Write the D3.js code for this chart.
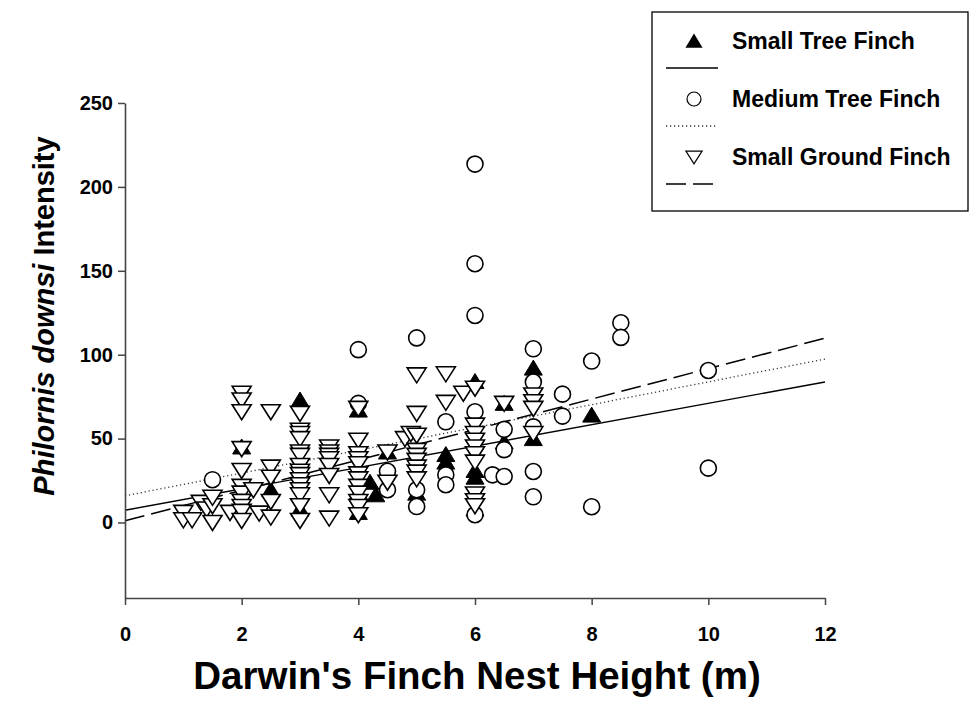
<!DOCTYPE html>
<html>
<head>
<meta charset="utf-8">
<script src="https://cdn.jsdelivr.net/npm/d3@7"></script>
<style>
  body { margin: 0; background: #fff; }
  text { font-family: "Liberation Sans", Arial, sans-serif; font-weight: bold; fill: #000; }
</style>
</head>
<body>
<svg id="chart" width="970" height="704"></svg>
<script>
// Axis ticks
const xTicks = [0, 2, 4, 6, 8, 10, 12];
const yTicks = [0, 50, 100, 150, 200, 250];

// Series names
const seriesNames = ["Small Tree Finch", "Medium Tree Finch", "Small Ground Finch"];

// Small Tree Finch: nest height (m) and intensity
const stfX = [2, 2.5, 3, 3, 4, 4, 4, 4.2, 4.3, 4.5, 5, 5.5, 5.5, 6, 6, 6, 6, 6.5, 6.5, 7, 7, 8];
const stfY = [45, 19.5, 73, 8, 67, 18, 6, 24, 16.5, 42, 17.5, 40.5, 36, 84, 31, 27, 8, 71, 48, 92, 50, 64];

// Medium Tree Finch
const mtfX = [1.5, 4, 4, 4.5, 4.5, 5, 5, 5, 5.5, 5.5, 5.5, 6, 6, 6, 6, 6, 6.3, 6.5, 6.5, 6.5,
              7, 7, 7, 7, 7, 7.5, 7.5, 8, 8, 8.5, 8.5, 10, 10];
const mtfY = [25.5, 103, 71, 30.5, 19.5, 110, 19.5, 9.5, 60, 28.4, 22.5, 213.6, 154.2, 123.4, 66, 4.6, 28.4, 27.4, 55.5, 43.4,
              103.5, 83.7, 57, 30.4, 15.3, 76.5, 63.4, 96.2, 9.4, 119, 110.3, 90.6, 32.4];

// Small Ground Finch
const sgfX = [1, 1, 1.15, 1.3, 1.4, 1.5, 1.5, 1.5, 1.8,
              2, 2, 2, 2, 2, 2, 2, 2, 2, 2, 2,
              2.2, 2.3,
              2.5, 2.5, 2.5, 2.5, 2.5,
              3, 3, 3, 3, 3, 3, 3, 3, 3, 3, 3, 3, 3, 3, 3,
              3.5, 3.5, 3.5, 3.5, 3.5, 3.5, 3.5, 3.5,
              4, 4, 4, 4, 4, 4, 4, 4, 4, 4, 4, 4,
              4.5, 4.5, 4.8, 4.9,
              5, 5, 5, 5, 5, 5, 5, 5, 5,
              5.5, 5.5, 5.8,
              6, 6, 6, 6, 6, 6, 6, 6, 6, 6,
              6.5, 7, 7, 7, 7];
const sgfY = [6, 1.6, 1.6, 12, 8, 0, 10, 15, 6,
              77, 73, 66, 44, 31, 21.5, 17.5, 12.6, 9.5, 6.6, 1.2,
              19.5, 5.6,
              66, 33, 27, 12.5, 3.2,
              65, 55, 53, 50, 42, 40, 34, 30.5, 28.5, 25.5, 22.5, 19.5, 16.5, 10, 1.2,
              45, 42, 40, 38, 34, 28, 16.5, 2.6,
              68, 49, 41, 38, 35, 29, 26, 21.5, 17.5, 12.5, 9.5, 4.6,
              42, 24, 50, 53,
              88, 65, 52, 43, 40, 37, 33, 30, 26,
              88.6, 71.6, 77,
              80, 58, 53, 49, 45, 41, 36, 17, 13, 10,
              71, 76, 72, 68, 53];

// Linear fits (intercept, slope) per series
const fitIntercept = [7.3, 15.9, 1.0];
const fitSlope = [6.37, 6.79, 9.07];

const svg = d3.select("#chart");
const x = d3.scaleLinear().domain([0, 12]).range([125, 825]);
const y = d3.scaleLinear().domain([-45, 250]).range([598, 103]);

// Marker shapes
const upTri = (cx, cy, s = 1) =>
  `M${cx},${cy - 8 * s}L${cx + 9 * s},${cy + 7 * s}L${cx - 9 * s},${cy + 7 * s}Z`;
const downTri = (cx, cy, s = 1) =>
  `M${cx - 9.5 * s},${cy - 7 * s}L${cx + 9.5 * s},${cy - 7 * s}L${cx},${cy + 8 * s}Z`;

const lineStyles = [
  { dash: null, width: 1.4, color: "#000" },
  { dash: "1.2,2.8", width: 1.3, color: "#333" },
  { dash: "20,7", width: 1.5, color: "#000" }
];

// Regression lines across the full x range
const plot = svg.append("g");
fitIntercept.forEach((b, i) => {
  const m = fitSlope[i];
  const xs = x.domain();
  plot.append("line")
    .attr("x1", x(xs[0])).attr("y1", y(b + m * xs[0]))
    .attr("x2", x(xs[1])).attr("y2", y(b + m * xs[1]))
    .attr("stroke", lineStyles[i].color)
    .attr("stroke-width", lineStyles[i].width)
    .attr("stroke-dasharray", lineStyles[i].dash);
});

// Small Tree Finch: filled up triangles
const stf = d3.zip(stfX, stfY);
plot.append("g").selectAll("path").data(stf).join("path")
  .attr("d", d => upTri(x(d[0]), y(d[1])))
  .attr("fill", "#000").attr("stroke", "#000").attr("stroke-width", 1);

// Medium Tree Finch: open circles
const mtf = d3.zip(mtfX, mtfY);
plot.append("g").selectAll("circle").data(mtf).join("circle")
  .attr("cx", d => x(d[0])).attr("cy", d => y(d[1])).attr("r", 8)
  .attr("fill", "#fff").attr("stroke", "#000").attr("stroke-width", 1.6);

// Small Ground Finch: open down triangles
const sgf = d3.zip(sgfX, sgfY);
plot.append("g").selectAll("path").data(sgf).join("path")
  .attr("d", d => downTri(x(d[0]), y(d[1])))
  .attr("fill", "#fff").attr("stroke", "#000").attr("stroke-width", 1.6);

// Axes
const xAxis = svg.append("g").attr("transform", "translate(0,598)")
  .call(d3.axisBottom(x).tickValues(xTicks).tickSize(7).tickSizeOuter(0).tickPadding(22));
const yAxis = svg.append("g").attr("transform", "translate(125,0)")
  .call(d3.axisLeft(y).tickValues(yTicks).tickSize(7).tickSizeOuter(0).tickPadding(5));
[xAxis, yAxis].forEach(a => {
  a.select(".domain").attr("stroke", "#444").attr("stroke-width", 1.6);
  a.selectAll(".tick line").attr("stroke", "#444").attr("stroke-width", 1.5);
  a.selectAll(".tick text").style("font-size", "20px")
    .style("font-family", '"Liberation Sans", Arial, sans-serif').style("font-weight", "bold");
});

// Axis titles
svg.append("text").attr("x", 477).attr("y", 689).attr("text-anchor", "middle")
  .style("font-size", "38.5px").text("Darwin's Finch Nest Height (m)");

const yt = svg.append("text").attr("transform", "translate(54,316) rotate(-90)")
  .attr("text-anchor", "middle").style("font-size", "29px");
yt.append("tspan").style("font-style", "italic").text("Philornis downsi");
yt.append("tspan").text(" Intensity");

// Legend
const lg = svg.append("g");
lg.append("rect").attr("x", 652).attr("y", 12).attr("width", 316).attr("height", 199)
  .attr("fill", "#fff").attr("stroke", "#000").attr("stroke-width", 1.3);
const rowY = [41, 99, 157];
rowY.forEach((ry, i) => {
  if (i === 0) lg.append("path").attr("d", upTri(694, ry, 0.95)).attr("fill", "#000");
  if (i === 1) lg.append("circle").attr("cx", 694).attr("cy", ry).attr("r", 7)
    .attr("fill", "#fff").attr("stroke", "#000").attr("stroke-width", 1.2);
  if (i === 2) lg.append("path").attr("d", downTri(694, ry, 0.85))
    .attr("fill", "#fff").attr("stroke", "#000").attr("stroke-width", 1.2);
  lg.append("line").attr("x1", 666).attr("x2", 718).attr("y1", ry + 27).attr("y2", ry + 27)
    .attr("stroke", lineStyles[i].color).attr("stroke-width", lineStyles[i].width)
    .attr("stroke-dasharray", lineStyles[i].dash);
  lg.append("text").attr("x", 732).attr("y", ry + 8).style("font-size", "23px").text(seriesNames[i]);
});
</script>
</body>
</html>
